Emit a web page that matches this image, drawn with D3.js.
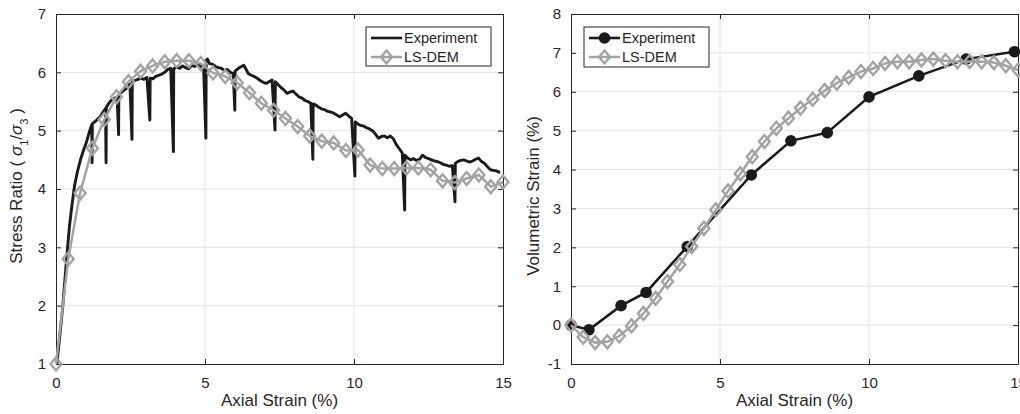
<!DOCTYPE html>
<html>
<head>
<meta charset="utf-8">
<script src="https://cdn.jsdelivr.net/npm/d3@7"></script>
<style>
  html, body { margin: 0; padding: 0; background: #fff; }
  svg { display: block; font-family: "Liberation Sans", Arial, Helvetica, sans-serif; }
</style>
</head>
<body>
<svg id="chart" width="1020" height="414"></svg>
<script>
// ---------------- DATA ----------------
// Left panel: Experiment (stress ratio vs axial strain), unloading drops included as extra points
const expStrainL = [0.03,0.12,0.22,0.30,0.38,0.45,0.53,0.62,0.72,0.82,0.92,1.02,1.12,1.20,1.21,1.22,1.30,1.40,1.48,1.58,1.66,1.68,1.69,1.76,1.85,1.95,2.05,2.10,2.11,2.20,2.30,2.40,2.48,2.55,2.56,2.65,2.75,2.85,2.95,3.05,3.15,3.16,3.25,3.35,3.45,3.55,3.65,3.75,3.85,3.94,3.95,4.05,4.15,4.25,4.35,4.45,4.55,4.65,4.75,4.85,4.95,5.03,5.04,5.08,5.15,5.25,5.35,5.45,5.55,5.65,5.75,5.85,5.95,6.00,6.01,6.08,6.15,6.22,6.30,6.38,6.45,6.55,6.65,6.75,6.85,6.95,7.05,7.15,7.25,7.35,7.36,7.45,7.55,7.65,7.75,7.85,7.95,8.05,8.15,8.25,8.35,8.45,8.55,8.62,8.63,8.72,8.82,8.92,9.02,9.12,9.22,9.32,9.42,9.52,9.62,9.72,9.82,9.92,10.03,10.04,10.12,10.22,10.32,10.42,10.52,10.62,10.72,10.82,10.92,11.02,11.12,11.22,11.32,11.42,11.52,11.62,11.70,11.71,11.80,11.90,12.00,12.10,12.20,12.30,12.40,12.50,12.60,12.70,12.80,12.90,13.00,13.10,13.20,13.30,13.39,13.40,13.48,13.58,13.68,13.78,13.88,13.98,14.08,14.18,14.28,14.38,14.48,14.58,14.68,14.78,14.90];
const expRatioL  = [1.00,1.45,1.95,2.45,2.95,3.35,3.70,4.05,4.30,4.50,4.66,4.80,4.98,5.10,4.45,5.12,5.15,5.20,5.24,5.32,5.38,4.45,5.40,5.46,5.52,5.55,5.58,4.93,5.62,5.66,5.70,5.74,5.80,4.85,5.84,5.86,5.88,5.90,5.88,5.91,5.18,5.90,5.89,5.93,5.95,5.97,6.00,6.05,6.07,4.64,6.06,6.09,6.07,6.11,6.08,6.06,6.12,6.10,6.14,6.10,6.12,4.87,6.20,6.23,6.15,6.14,6.10,6.08,6.07,6.03,6.05,6.00,5.98,5.35,6.02,6.05,6.08,6.10,6.12,6.05,5.98,5.95,5.93,5.90,5.86,5.83,5.81,5.84,5.87,5.01,5.84,5.79,5.74,5.70,5.64,5.66,5.68,5.63,5.58,5.56,5.52,5.50,5.47,4.51,5.46,5.44,5.40,5.37,5.36,5.33,5.32,5.30,5.27,5.24,5.27,5.30,5.25,5.21,4.22,5.15,5.12,5.09,5.08,5.05,5.03,5.00,4.94,4.87,4.90,4.91,4.88,4.91,4.86,4.76,4.69,4.62,3.64,4.58,4.53,4.50,4.52,4.49,4.51,4.58,4.54,4.52,4.50,4.48,4.47,4.45,4.42,4.41,4.39,4.40,3.78,4.44,4.47,4.49,4.50,4.48,4.46,4.48,4.51,4.53,4.47,4.44,4.38,4.33,4.32,4.31,4.28];

// LS-DEM sample strains (shared by both panels)
const demStrain = [0.00,0.41,0.81,1.22,1.62,2.03,2.43,2.84,3.24,3.65,4.05,4.46,4.86,5.27,5.68,6.08,6.49,6.89,7.30,7.70,8.11,8.51,8.92,9.32,9.73,10.14,10.54,10.95,11.35,11.76,12.16,12.57,12.97,13.38,13.78,14.19,14.59,15.00];
const demRatio  = [1.00,2.80,3.93,4.70,5.19,5.58,5.84,6.02,6.11,6.18,6.20,6.20,6.15,5.99,5.93,5.82,5.65,5.47,5.35,5.21,5.07,4.91,4.82,4.79,4.66,4.67,4.41,4.35,4.35,4.36,4.36,4.33,4.14,4.11,4.18,4.24,4.04,4.12];
const demVol    = [0.00,-0.31,-0.45,-0.43,-0.28,-0.02,0.30,0.69,1.12,1.56,2.02,2.49,2.96,3.45,3.89,4.33,4.72,5.06,5.32,5.58,5.81,6.03,6.22,6.37,6.52,6.60,6.73,6.77,6.77,6.82,6.84,6.80,6.77,6.78,6.77,6.75,6.67,6.56];

// Right panel: Experiment volumetric strain
const expStrainR = [0.00,0.60,1.68,2.52,3.90,6.05,7.38,8.60,10.00,11.67,13.26,14.88];
const expVolR    = [0.00,-0.12,0.50,0.84,2.02,3.86,4.74,4.95,5.87,6.41,6.84,7.03];

// Axis ticks / labels
const xTicks = [0,5,10,15];
const yTicksL = [1,2,3,4,5,6,7];
const yTicksR = [-1,0,1,2,3,4,5,6,7,8];
const seriesNames = ["Experiment","LS-DEM"];

// ---------------- DRAW ----------------
const svg = d3.select("#chart");
const BLACK = "#1a1a1a", GRAY = "#a3a3a3", AX = "#262626", GRID = "#e3e3e3";
const fmt = d => String(d); // plain hyphen-minus like the reference

function panel(opts) {
  const {x0, x1, yTop, yBot, xDom, yDom, yTicks} = opts;
  const x = d3.scaleLinear().domain(xDom).range([x0, x1]);
  const y = d3.scaleLinear().domain(yDom).range([yBot, yTop]);
  const g = svg.append("g");
  // grid
  g.append("g").selectAll("line").data(xTicks.slice(1, -1)).join("line")
    .attr("x1", d => x(d)).attr("x2", d => x(d)).attr("y1", yTop).attr("y2", yBot)
    .attr("stroke", GRID).attr("stroke-width", 1);
  g.append("g").selectAll("line").data(yTicks.slice(1, -1)).join("line")
    .attr("y1", d => y(d)).attr("y2", d => y(d)).attr("x1", x0).attr("x2", x1)
    .attr("stroke", GRID).attr("stroke-width", 1);
  // axes
  const ax = g.append("g").attr("transform", `translate(0,${yBot})`)
    .call(d3.axisBottom(x).tickValues(xTicks).tickSizeInner(-5).tickSizeOuter(0).tickPadding(10).tickFormat(fmt));
  const ay = g.append("g").attr("transform", `translate(${x0},0)`)
    .call(d3.axisLeft(y).tickValues(yTicks).tickSizeInner(-5).tickSizeOuter(0).tickPadding(10).tickFormat(fmt));
  const at = g.append("g").attr("transform", `translate(0,${yTop})`)
    .call(d3.axisTop(x).tickValues(xTicks).tickSizeInner(-5).tickSizeOuter(0).tickFormat(""));
  const ar = g.append("g").attr("transform", `translate(${x1},0)`)
    .call(d3.axisRight(y).tickValues(yTicks).tickSizeInner(-5).tickSizeOuter(0).tickFormat(""));
  [ax, ay, at, ar].forEach(a => {
    a.select(".domain").attr("stroke", AX).attr("stroke-width", 1);
    a.selectAll(".tick line").attr("stroke", AX).attr("stroke-width", 1);
    a.selectAll(".tick text").attr("fill", AX).style("font-size", "15px")
      .style("font-family", '"Liberation Sans", Arial, sans-serif');
  });
  ax.selectAll(".tick text").attr("dy", "0.9em");
  return {x, y, g};
}

function diamond(g, cx, cy) {
  g.append("path")
    .attr("d", `M${cx},${cy - 6.5}L${cx + 5.5},${cy}L${cx},${cy + 6.5}L${cx - 5.5},${cy}Z`)
    .attr("fill", "none").attr("stroke", GRAY).attr("stroke-width", 2.4);
}

// ----- Left panel -----
const L = panel({x0: 56, x1: 503, yTop: 14, yBot: 364, xDom: [0, 15], yDom: [1, 7], yTicks: yTicksL});
const lineL = d3.line().x(d => L.x(d[0])).y(d => L.y(d[1]));
L.g.append("path").datum(d3.zip(expStrainL, expRatioL)).attr("d", lineL)
  .attr("fill", "none").attr("stroke", BLACK).attr("stroke-width", 2.9).attr("stroke-linejoin", "round");
L.g.append("path").datum(d3.zip(demStrain, demRatio)).attr("d", lineL)
  .attr("fill", "none").attr("stroke", GRAY).attr("stroke-width", 2.5);
d3.zip(demStrain, demRatio).forEach(d => diamond(L.g, L.x(d[0]), L.y(d[1])));

// ----- Right panel -----
const R = panel({x0: 571, x1: 1018, yTop: 14, yBot: 364, xDom: [0, 15], yDom: [-1, 8], yTicks: yTicksR});
const lineR = d3.line().x(d => R.x(d[0])).y(d => R.y(d[1]));
R.g.append("path").datum(d3.zip(expStrainR, expVolR)).attr("d", lineR)
  .attr("fill", "none").attr("stroke", BLACK).attr("stroke-width", 2.5);
R.g.append("g").selectAll("circle").data(d3.zip(expStrainR, expVolR)).join("circle")
  .attr("cx", d => R.x(d[0])).attr("cy", d => R.y(d[1])).attr("r", 5.8).attr("fill", BLACK);
R.g.append("path").datum(d3.zip(demStrain, demVol)).attr("d", lineR)
  .attr("fill", "none").attr("stroke", GRAY).attr("stroke-width", 2.5);
d3.zip(demStrain, demVol).forEach(d => diamond(R.g, R.x(d[0]), R.y(d[1])));

// ----- Axis labels -----
function xLabel(cx) {
  svg.append("text").attr("x", cx).attr("y", 406).attr("text-anchor", "middle")
    .attr("fill", AX).style("font-size", "17px").text("Axial Strain (%)");
}
xLabel(279.5); xLabel(794.5);

const yl = svg.append("text").attr("transform", "translate(22,186) rotate(-90)")
  .attr("text-anchor", "middle").attr("fill", AX).style("font-size", "17px");
yl.append("tspan").text("Stress Ratio ( ");
yl.append("tspan").style("font-style", "italic").text("σ");
yl.append("tspan").attr("baseline-shift", "sub").style("font-size", "11px").text("1");
yl.append("tspan").text("/");
yl.append("tspan").style("font-style", "italic").text("σ");
yl.append("tspan").attr("baseline-shift", "sub").style("font-size", "11px").text("3");
yl.append("tspan").text(" )");

svg.append("text").attr("transform", "translate(539,196) rotate(-90)")
  .attr("text-anchor", "middle").attr("fill", AX).style("font-size", "17px")
  .text("Volumetric Strain (%)");

// ----- Legends -----
function legend(bx, by, bw, bh, expMarker) {
  const g = svg.append("g");
  g.append("rect").attr("x", bx).attr("y", by).attr("width", bw).attr("height", bh)
    .attr("fill", "#fff").attr("stroke", AX).attr("stroke-width", 1);
  const lx0 = bx + 5, lx1 = bx + 36, rows = [by + 11, by + 30];
  g.append("line").attr("x1", lx0).attr("x2", lx1).attr("y1", rows[0]).attr("y2", rows[0])
    .attr("stroke", BLACK).attr("stroke-width", 2.6);
  if (expMarker) g.append("circle").attr("cx", (lx0 + lx1) / 2).attr("cy", rows[0]).attr("r", 5.8).attr("fill", BLACK);
  g.append("line").attr("x1", lx0).attr("x2", lx1).attr("y1", rows[1]).attr("y2", rows[1])
    .attr("stroke", GRAY).attr("stroke-width", 2.5);
  diamond(g, (lx0 + lx1) / 2, rows[1]);
  seriesNames.forEach((s, i) => {
    g.append("text").attr("x", lx1 + 2).attr("y", rows[i] + 5).attr("fill", AX)
      .style("font-size", "14.5px").text(s);
  });
}
legend(366, 27, 125, 39, false);
legend(584, 27, 125, 40, true);
</script>
</body>
</html>
